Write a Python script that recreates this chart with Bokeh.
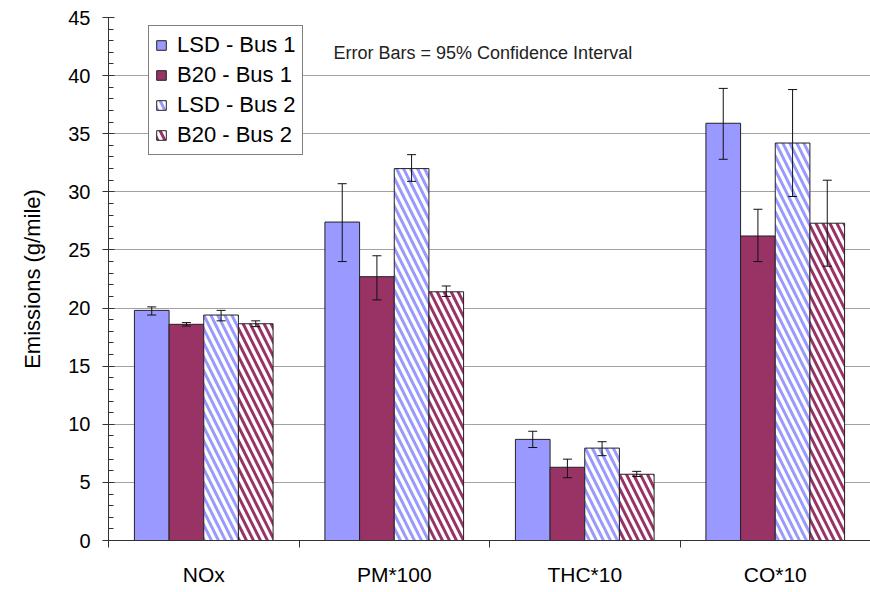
import numpy as np
from bokeh.plotting import figure
from bokeh.models import (ColumnDataSource, Range1d, Whisker, TeeHead, FixedTicker,
                          SingleIntervalTicker, CustomJSTickFormatter, Label)
from bokeh.embed import file_html
from bokeh.resources import INLINE

# ---------------- data ----------------
categories = ["NOx", "PM*100", "THC*10", "CO*10"]
series_names = ["LSD - Bus 1", "B20 - Bus 1", "LSD - Bus 2", "B20 - Bus 2"]

lsd_bus1 = [19.8, 27.4, 8.7, 35.9]
lsd_bus1_lo = [19.4, 24.0, 8.0, 32.8]
lsd_bus1_hi = [20.1, 30.7, 9.4, 38.9]

b20_bus1 = [18.6, 22.7, 6.3, 26.2]
b20_bus1_lo = [18.45, 20.7, 5.4, 24.0]
b20_bus1_hi = [18.75, 24.5, 7.0, 28.5]

lsd_bus2 = [19.4, 32.0, 7.95, 34.2]
lsd_bus2_lo = [18.9, 30.9, 7.3, 29.6]
lsd_bus2_hi = [19.8, 33.2, 8.5, 38.8]

b20_bus2 = [18.65, 21.4, 5.7, 27.3]
b20_bus2_lo = [18.4, 21.0, 5.5, 23.6]
b20_bus2_hi = [18.9, 21.9, 5.95, 31.0]

values = [lsd_bus1, b20_bus1, lsd_bus2, b20_bus2]
lows = [lsd_bus1_lo, b20_bus1_lo, lsd_bus2_lo, b20_bus2_lo]
highs = [lsd_bus1_hi, b20_bus1_hi, lsd_bus2_hi, b20_bus2_hi]

# ---------------- styles ----------------
BLUE = "#9999FF"
PLUM = "#993366"
offsets = [-0.273, -0.091, 0.091, 0.273]
bar_w = 0.182
styles = [
    dict(fill_color=BLUE),
    dict(fill_color=PLUM),
    dict(fill_color="white", hatch_pattern="\\", hatch_color=BLUE, hatch_weight=3, hatch_scale=14),
    dict(fill_color="white", hatch_pattern="\\", hatch_color=PLUM, hatch_weight=3, hatch_scale=14),
]

p = figure(width=870, height=592, output_backend="svg", toolbar_location=None,
           x_range=Range1d(0, 4), y_range=Range1d(0, 45),
           min_border_left=108, min_border_right=0, min_border_top=17, min_border_bottom=52)
p.outline_line_color = None
p.background_fill_color = "white"
p.border_fill_color = "white"

centers = np.arange(len(categories)) + 0.5
for i in range(4):
    src = ColumnDataSource(dict(x=centers + offsets[i], top=values[i],
                                lo=lows[i], hi=highs[i]))
    p.vbar(x="x", top="top", width=bar_w, source=src, line_color="#222222", line_width=1,
           legend_label=series_names[i], **styles[i])
    w = Whisker(base="x", upper="hi", lower="lo", source=src, line_color="#111111", line_width=1,
                upper_head=TeeHead(size=9, line_color="#111111", line_width=1),
                lower_head=TeeHead(size=9, line_color="#111111", line_width=1),
                level="overlay")
    p.add_layout(w)

# ---------------- axes ----------------
FONT = "Liberation Sans"
p.xgrid.grid_line_color = None
p.ygrid.grid_line_color = "#444444"
p.ygrid.grid_line_dash = "1 1"
p.ygrid.grid_line_width = 1

yax = p.yaxis[0]
yax.ticker = SingleIntervalTicker(interval=5, num_minor_ticks=5)
yax.axis_label = "Emissions (g/mile)"
yax.axis_label_text_font = FONT
yax.axis_label_text_font_size = "22px"
yax.axis_label_text_font_style = "normal"
yax.axis_label_text_color = "black"
yax.axis_label_standoff = 20
yax.major_label_text_font = FONT
yax.major_label_text_font_size = "20px"
yax.major_label_text_color = "black"
yax.major_label_standoff = 12
yax.major_tick_out = 6
yax.major_tick_in = 6
yax.minor_tick_in = 5
yax.minor_tick_out = 0
yax.axis_line_color = "#333333"
yax.major_tick_line_color = "#333333"
yax.minor_tick_line_color = "#333333"

xax = p.xaxis[0]
xax.ticker = FixedTicker(ticks=list(centers), minor_ticks=[0, 1, 2, 3, 4])
xax.formatter = CustomJSTickFormatter(args=dict(labels=categories),
                                      code="return labels[Math.round(tick - 0.5)];")
xax.major_tick_out = 0
xax.major_tick_in = 0
xax.minor_tick_out = 7
xax.minor_tick_in = 0
xax.major_label_standoff = 15
xax.major_label_text_font = FONT
xax.major_label_text_font_size = "21px"
xax.major_label_text_color = "black"
xax.axis_line_color = "#333333"
xax.minor_tick_line_color = "#333333"

# ---------------- legend ----------------
lg = p.legend[0]
lg.location = (40, 385)
lg.border_line_color = "black"
lg.border_line_width = 1
lg.background_fill_color = "white"
lg.background_fill_alpha = 1
lg.label_text_font = FONT
lg.label_text_font_size = "22px"
lg.label_text_color = "black"
lg.glyph_width = 12
lg.glyph_height = 12
lg.label_height = 24
lg.label_standoff = 10
lg.spacing = 4
lg.padding = 6
lg.margin = 0

note = Label(x=225, y=488, x_units="screen", y_units="screen",
             text="Error Bars = 95% Confidence Interval", text_font=FONT,
             text_font_size="18px", text_color="#222222", text_baseline="alphabetic")
p.add_layout(note)

open("out.html", "w").write(file_html(p, INLINE))
